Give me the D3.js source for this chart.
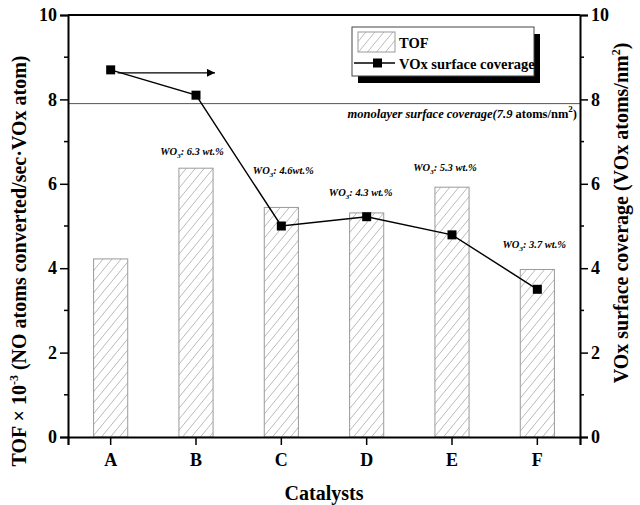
<!DOCTYPE html>
<html>
<head>
<meta charset="utf-8">
<script src="https://cdn.jsdelivr.net/npm/d3@7"></script>
<style>
  html, body { margin: 0; padding: 0; background: #fff; }
  svg { display: block; }
  svg text { font-family: "Liberation Serif", "Times New Roman", Times, "DejaVu Serif", serif; }
</style>
</head>
<body>
<svg id="chart" width="640" height="505"></svg>
<script>
// Catalysts and measured values
const catalysts = ["A", "B", "C", "D", "E", "F"];
const tofValues = [4.22, 6.37, 5.44, 5.31, 5.92, 3.97];          // TOF x 10^-3
const coverageValues = [8.7, 8.1, 5.0, 5.22, 4.79, 3.5];         // VOx atoms/nm^2
const wo3Labels = [null, "6.3 wt.%", "4.6wt.%", "4.3 wt.%", "5.3 wt.%", "3.7 wt.%"];
const monolayerValue = 7.9;
const leftTicks = [0, 2, 4, 6, 8, 10];
const rightTicks = [0, 2, 4, 6, 8, 10];
const minorTicks = [1, 3, 5, 7, 9];

const SERIF = "'Liberation Serif', 'Times New Roman', Times, 'DejaVu Serif', serif";
const svg = d3.select("#chart").attr("font-family", SERIF);
const plot = { left: 68, right: 580, top: 15, bottom: 437 };

const x = d3.scaleBand().domain(catalysts).range([plot.left, plot.right]).padding(0);
const yL = d3.scaleLinear().domain([0, 10]).range([plot.bottom, plot.top]);
const yR = d3.scaleLinear().domain([0, 10]).range([plot.bottom, plot.top]);
const barW = x.bandwidth() * 0.4;
const cx = c => x(c) + x.bandwidth() / 2;

// hatch pattern for TOF bars
const defs = svg.append("defs");
const pat = defs.append("pattern")
  .attr("id", "hatch").attr("patternUnits", "userSpaceOnUse")
  .attr("width", 9).attr("height", 11);
pat.append("rect").attr("width", 9).attr("height", 11).attr("fill", "#fff");
pat.append("path")
  .attr("d", "M0,11 L9,0 M-9,11 L0,0 M9,11 L18,0")
  .attr("stroke", "#a8a8a8").attr("stroke-width", 0.8).attr("fill", "none");
defs.append("marker")
  .attr("id", "arrowhead").attr("viewBox", "0 0 10 10")
  .attr("refX", 10).attr("refY", 5)
  .attr("markerWidth", 12).attr("markerHeight", 8)
  .attr("markerUnits", "userSpaceOnUse")
  .attr("orient", "auto")
  .append("path").attr("d", "M0,0 L10,5 L0,10 Z").attr("fill", "#000");

// bars
svg.append("g").selectAll("rect")
  .data(catalysts)
  .join("rect")
  .attr("x", c => cx(c) - barW / 2)
  .attr("y", (c, i) => yL(tofValues[i]))
  .attr("width", barW)
  .attr("height", (c, i) => yL(0) - yL(tofValues[i]))
  .attr("fill", "url(#hatch)")
  .attr("stroke", "#9a9a9a").attr("stroke-width", 1);

// monolayer reference line
svg.append("line")
  .attr("x1", plot.left).attr("x2", plot.right)
  .attr("y1", yR(monolayerValue)).attr("y2", yR(monolayerValue))
  .attr("stroke", "#555").attr("stroke-width", 1);

const mono = svg.append("text")
  .attr("x", plot.right - 3).attr("y", yR(monolayerValue) + 14)
  .attr("text-anchor", "end")
  .attr("font-size", 12.5).attr("font-weight", "bold");
mono.append("tspan").attr("font-style", "italic").text("monolayer surface coverage(7.9 ");
mono.append("tspan").text("atoms/nm");
mono.append("tspan").attr("font-size", 9).attr("dy", -6).text("2");
mono.append("tspan").attr("dy", 6).text(")");

// coverage line with square markers
const line = d3.line().x((d, i) => cx(catalysts[i])).y(d => yR(d));
svg.append("path")
  .datum(coverageValues)
  .attr("d", line)
  .attr("fill", "none").attr("stroke", "#000").attr("stroke-width", 1.4);
svg.append("g").selectAll("rect")
  .data(coverageValues)
  .join("rect")
  .attr("x", (d, i) => cx(catalysts[i]) - 4.5)
  .attr("y", d => yR(d) - 4.5)
  .attr("width", 9).attr("height", 9)
  .attr("fill", "#000");

// arrow pointing to the right axis
svg.append("line")
  .attr("x1", cx("A") + 7).attr("x2", cx("B") + 19)
  .attr("y1", yR(coverageValues[0]) + 3).attr("y2", yR(coverageValues[0]) + 3)
  .attr("stroke", "#000").attr("stroke-width", 1.2)
  .attr("marker-end", "url(#arrowhead)");

// WO3 loading labels above the bars
const labelGap = { B: 13, C: 33, D: 17, E: 16, F: 21 };
const labelShift = { B: -4, C: 2, D: -6, E: -7, F: -3 };
catalysts.forEach((c, i) => {
  if (!wo3Labels[i]) return;
  const t = svg.append("text")
    .attr("x", cx(c) + labelShift[c])
    .attr("y", yL(tofValues[i]) - labelGap[c])
    .attr("text-anchor", "middle")
    .attr("font-size", 10.5).attr("font-weight", "bold").attr("font-style", "italic");
  t.append("tspan").text("WO");
  t.append("tspan").attr("font-size", 7).attr("dy", 3).text("3");
  t.append("tspan").attr("dy", -3).text(": " + wo3Labels[i]);
});

// axes
const axisFont = g => {
  g.attr("font-family", SERIF);
  g.selectAll("text")
    .attr("font-weight", "bold").attr("font-size", 18).attr("fill", "#000");
};

const gL = svg.append("g").attr("transform", `translate(${plot.left},0)`)
  .call(d3.axisLeft(yL).tickValues(leftTicks).tickSize(8).tickPadding(3).tickFormat(d3.format("d")));
gL.call(axisFont);
gL.select(".domain").attr("stroke-width", 2);
gL.selectAll(".tick line").attr("stroke-width", 1.5);
gL.selectAll(".minor").data(minorTicks).join("line").attr("class", "minor")
  .attr("x1", -4).attr("x2", 0).attr("y1", d => yL(d)).attr("y2", d => yL(d))
  .attr("stroke", "#000").attr("stroke-width", 1.5);

const gR = svg.append("g").attr("transform", `translate(${plot.right},0)`)
  .call(d3.axisRight(yR).tickValues(rightTicks).tickSize(8).tickPadding(3).tickFormat(d3.format("d")));
gR.call(axisFont);
gR.select(".domain").attr("stroke-width", 2);
gR.selectAll(".tick line").attr("stroke-width", 1.5);
gR.selectAll(".minor").data(minorTicks).join("line").attr("class", "minor")
  .attr("x1", 0).attr("x2", 4).attr("y1", d => yR(d)).attr("y2", d => yR(d))
  .attr("stroke", "#000").attr("stroke-width", 1.5);

const gB = svg.append("g").attr("transform", `translate(0,${plot.bottom})`)
  .call(d3.axisBottom(x).tickSize(8).tickPadding(8));
gB.call(axisFont);
gB.select(".domain").attr("stroke-width", 2.2);
gB.selectAll(".tick line").attr("stroke-width", 1.5);

// top frame
svg.append("line")
  .attr("x1", plot.left).attr("x2", plot.right)
  .attr("y1", plot.top).attr("y2", plot.top)
  .attr("stroke", "#000").attr("stroke-width", 2);

// axis titles
svg.append("text")
  .attr("x", (plot.left + plot.right) / 2).attr("y", 500)
  .attr("text-anchor", "middle")
  .attr("font-size", 20).attr("font-weight", "bold")
  .text("Catalysts");

const lt = svg.append("text")
  .attr("transform", "translate(26,261) rotate(-90)")
  .attr("text-anchor", "middle")
  .attr("font-size", 20).attr("font-weight", "bold");
lt.append("tspan").text("TOF × 10");
lt.append("tspan").attr("font-size", 12).attr("dy", -8).text("-3");
lt.append("tspan").attr("dy", 8).text(" (NO atoms converted/sec·VOx atom)");

const rt = svg.append("text")
  .attr("transform", "translate(628,213) rotate(-90)")
  .attr("text-anchor", "middle")
  .attr("font-size", 20).attr("font-weight", "bold");
rt.append("tspan").text("VOx surface coverage (VOx atoms/nm");
rt.append("tspan").attr("font-size", 12).attr("dy", -8).text("2");
rt.append("tspan").attr("dy", 8).text(")");

// legend with drop shadow
const lg = svg.append("g").attr("transform", "translate(352,27)");
lg.append("rect").attr("x", 6).attr("y", 7).attr("width", 182).attr("height", 49).attr("fill", "#000");
lg.append("rect").attr("x", 0).attr("y", 0).attr("width", 182).attr("height", 49)
  .attr("fill", "#fff").attr("stroke", "#444").attr("stroke-width", 1);
lg.append("rect").attr("x", 6).attr("y", 5).attr("width", 37).attr("height", 20)
  .attr("fill", "url(#hatch)").attr("stroke", "#9a9a9a");
lg.append("text").attr("x", 47).attr("y", 21)
  .attr("font-size", 14.5).attr("font-weight", "bold").text("TOF");
lg.append("line").attr("x1", 2).attr("x2", 43).attr("y1", 36).attr("y2", 36)
  .attr("stroke", "#000").attr("stroke-width", 1.4);
lg.append("rect").attr("x", 21).attr("y", 31.5).attr("width", 9).attr("height", 9).attr("fill", "#000");
lg.append("text").attr("x", 47).attr("y", 42)
  .attr("font-size", 14.5).attr("font-weight", "bold").text("VOx surface coverage");
</script>
</body>
</html>
